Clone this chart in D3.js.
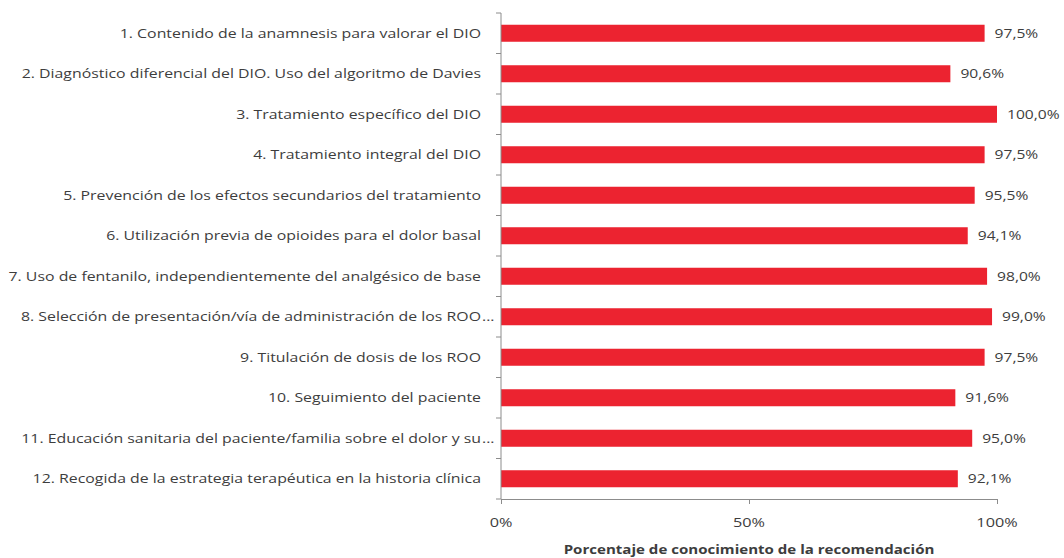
<!DOCTYPE html>
<html>
<head>
<meta charset="utf-8">
<script src="https://cdn.jsdelivr.net/npm/d3@7"></script>
<style>
  html, body { margin: 0; padding: 0; background: #fff; }
  svg { display: block; }
  text { font-family: "Open Sans", Lato, sans-serif; fill: #3d3d3d; font-size: 13px; }
</style>
</head>
<body>
<svg id="chart" width="1064" height="558"></svg>
<script>
// Recommendations (labels ending in "..." are truncated as in the source report)
const categories = [
  "1. Contenido de la anamnesis para valorar el DIO",
  "2. Diagnóstico diferencial del DIO. Uso del algoritmo de Davies",
  "3. Tratamiento específico del DIO",
  "4. Tratamiento integral del DIO",
  "5. Prevención de los efectos secundarios del tratamiento",
  "6. Utilización previa de opioides para el dolor basal",
  "7. Uso de fentanilo, independientemente del analgésico de base",
  "8. Selección de presentación/vía de administración de los ROO...",
  "9. Titulación de dosis de los ROO",
  "10. Seguimiento del paciente",
  "11. Educación sanitaria del paciente/familia sobre el dolor y su...",
  "12. Recogida de la estrategia terapéutica en la historia clínica"
];
// Percentage of knowledge of each recommendation
const values = [97.5, 90.6, 100.0, 97.5, 95.5, 94.1, 98.0, 99.0, 97.5, 91.6, 95.0, 92.1];
const tickValues = [0, 50, 100];
const axisTitle = "Porcentaje de conocimiento de la recomendación";

const svg = d3.select("#chart");
const margin = { left: 501, right: 67, top: 13, bottom: 59 };
const W = 1064, H = 558;
const SX = 1.22;          // horizontal stretch of the lettering

const x = d3.scaleLinear().domain([0, 100]).range([margin.left, W - margin.right]);
const y = d3.scaleBand().domain(categories).range([margin.top, H - margin.bottom]).paddingInner(0.58).paddingOuter(0.29);

const fmt = v => v.toFixed(1).replace(".", ",") + "%";

// Text drawn with a horizontal stretch around its anchor point
function label(g, px, py, str, anchor, sx) {
  return g.append("text")
    .attr("transform", `translate(${px},${py}) scale(${sx || SX},1)`)
    .attr("dy", "0.35em")
    .attr("text-anchor", anchor || "start")
    .text(str);
}

// Bars
svg.append("g").selectAll("rect").data(values).join("rect")
  .attr("x", x(0))
  .attr("y", (d, i) => y(categories[i]))
  .attr("width", d => x(d) - x(0))
  .attr("height", y.bandwidth())
  .attr("fill", "#ec2330");

// Value labels
const vg = svg.append("g");
values.forEach((v, i) => {
  label(vg, x(v) + 10, y(categories[i]) + y.bandwidth() / 2, fmt(v), "start", 1.2);
});

// Category axis: line plus ticks at band boundaries
const yAxis = svg.append("g");
yAxis.append("line")
  .attr("x1", x(0)).attr("x2", x(0))
  .attr("y1", margin.top).attr("y2", H - margin.bottom)
  .attr("stroke", "#8c8c8c").attr("stroke-width", 1);
d3.range(categories.length + 1).forEach(i => {
  const yy = margin.top + i * (H - margin.top - margin.bottom) / categories.length;
  yAxis.append("line")
    .attr("x1", x(0) - 5).attr("x2", x(0))
    .attr("y1", yy).attr("y2", yy)
    .attr("stroke", "#8c8c8c");
});

// Category labels, right-aligned against the axis; truncation dots overhang
const labelX = x(0) - 20;
categories.forEach(c => {
  const cy = y(c) + y.bandwidth() / 2;
  const truncated = c.endsWith("...");
  const main = truncated ? c.slice(0, -3) : c;
  label(yAxis, labelX, cy, main, "end");
  if (truncated) label(yAxis, labelX + 1, cy, "...", "start");
});

// Value axis
const xAxis = svg.append("g")
  .attr("transform", `translate(0,${H - margin.bottom})`)
  .call(d3.axisBottom(x).tickValues(tickValues).tickSize(5).tickFormat(""));
xAxis.select(".domain").attr("stroke", "#8c8c8c");
xAxis.selectAll(".tick line").attr("stroke", "#8c8c8c");
const tg = svg.append("g");
tickValues.forEach(t => label(tg, x(t), 522, t + "%", "middle", 1.25));

label(svg, x(50), 549, axisTitle, "middle", 1.16).style("font-weight", "bold");
</script>
</body>
</html>
